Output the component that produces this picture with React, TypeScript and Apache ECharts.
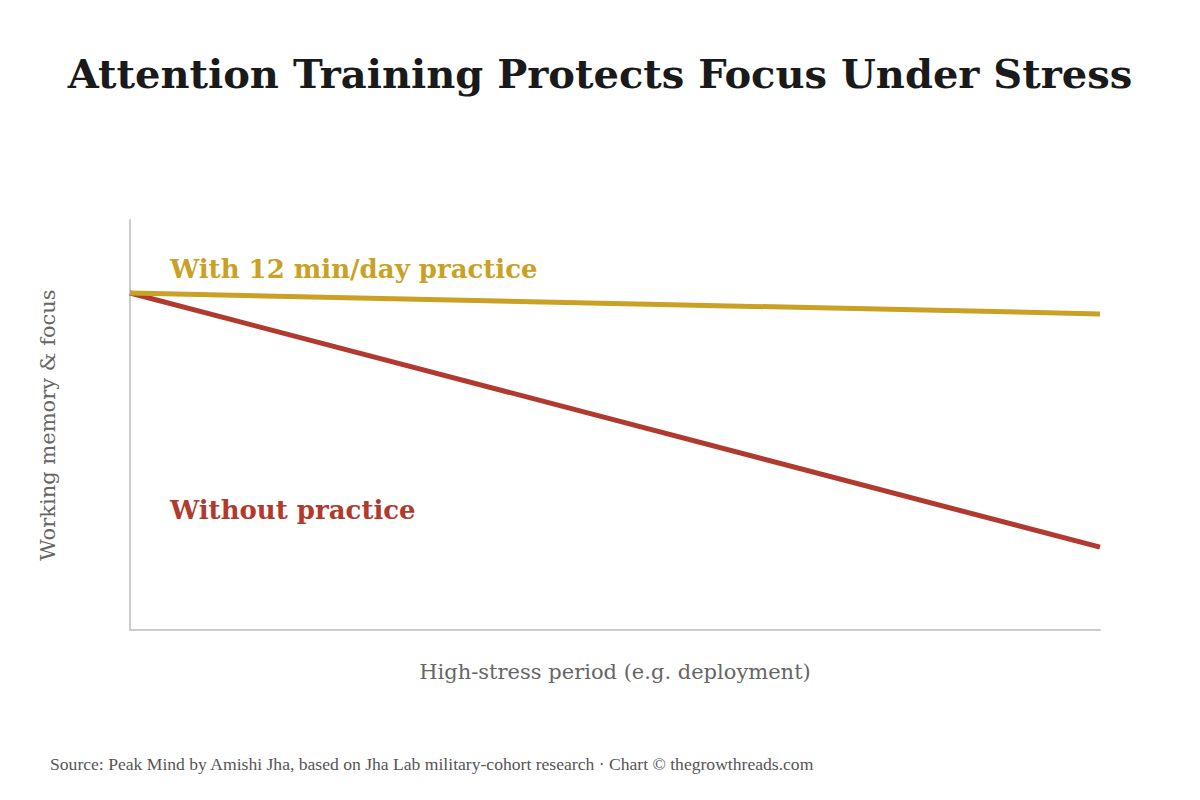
import React, { useEffect, useRef } from "react";
import * as echarts from "echarts";

const periods = ["Start", "End"];
const withPractice = [82.2, 77.1];
const withoutPractice = [82.2, 20.2];
const titleText = "Attention Training Protects Focus Under Stress";
const yName = "Working memory & focus";
const xName = "High-stress period (e.g. deployment)";
const labelWith = "With 12 min/day practice";
const labelWithout = "Without practice";
const sourceText = "Source: Peak Mind by Amishi Jha, based on Jha Lab military-cohort research · Chart © thegrowthreads.com";

const GOLD = "#C9A124";
const RED = "#B03A2E";
const SERIF = "'DejaVu Serif', Georgia, serif";

export default function App() {
  const ref = useRef<HTMLDivElement>(null);
  useEffect(() => {
    if (!ref.current) return;
    const chart = echarts.init(ref.current, null, { renderer: "svg" });
    chart.setOption({
      animation: false,
      backgroundColor: "#ffffff",
      title: {
        text: titleText,
        left: "center",
        top: 48,
        textStyle: { fontFamily: SERIF, fontWeight: "bold", fontSize: 40, color: "#1a1a1a" },
      },
      grid: { left: 130, right: 100, top: 220, bottom: 170 },
      xAxis: {
        type: "category",
        data: periods,
        boundaryGap: false,
        name: xName,
        nameLocation: "middle",
        nameGap: 31,
        nameTextStyle: { fontFamily: SERIF, fontSize: 21, color: "#666" },
        axisLine: { lineStyle: { color: "#cccccc", width: 2 } },
        axisTick: { show: false },
        axisLabel: { show: false },
        splitLine: { show: false },
      },
      yAxis: {
        type: "value",
        min: 0,
        max: 100,
        name: yName,
        nameLocation: "middle",
        nameGap: 72,
        nameTextStyle: { fontFamily: SERIF, fontSize: 21, color: "#666" },
        axisLine: { show: true, lineStyle: { color: "#cccccc", width: 2 } },
        axisTick: { show: false },
        axisLabel: { show: false },
        splitLine: { show: false },
      },
      series: [
        {
          type: "line",
          data: withPractice,
          symbol: "none",
          lineStyle: { color: GOLD, width: 5 },
          z: 3,
        },
        {
          type: "line",
          data: withoutPractice,
          symbol: "none",
          lineStyle: { color: RED, width: 5 },
          z: 2,
        },
      ],
      graphic: [
        {
          type: "text",
          left: 170,
          top: 256,
          style: { text: labelWith, fill: GOLD, font: `bold 26px ${SERIF}` },
        },
        {
          type: "text",
          left: 170,
          top: 497,
          style: { text: labelWithout, fill: RED, font: `bold 26px ${SERIF}` },
        },
        {
          type: "text",
          left: 50,
          top: 755,
          style: { text: sourceText, fill: "#555", font: `17.6px 'Liberation Serif', serif` },
        },
      ],
    });
    return () => chart.dispose();
  }, []);
  return <div ref={ref} style={{ width: 1200, height: 800, margin: -8 }} />;
}
